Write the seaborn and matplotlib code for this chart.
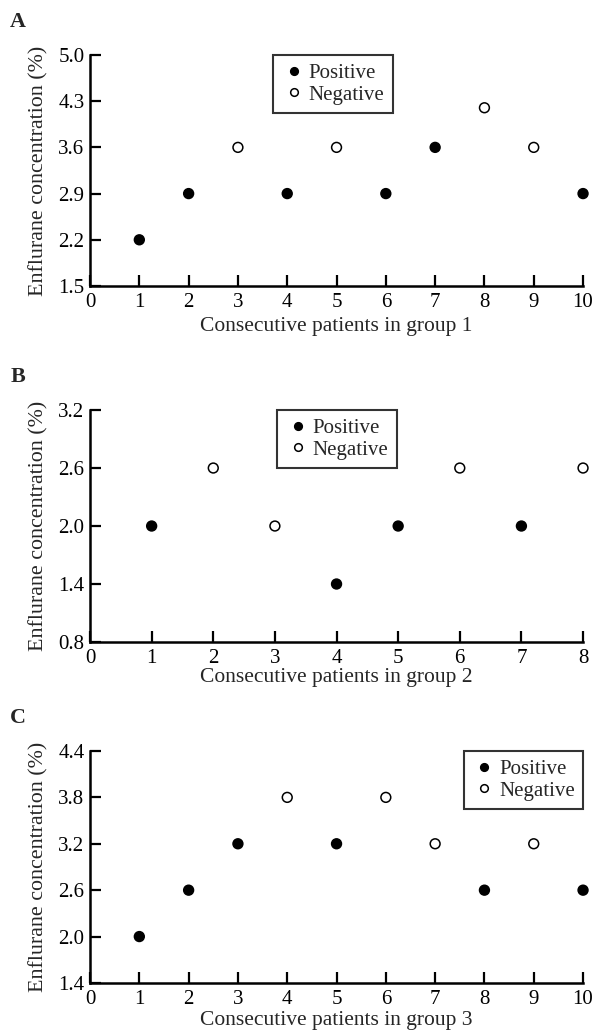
import numpy as np
import pandas as pd
import matplotlib
matplotlib.use("Agg")
import matplotlib.pyplot as plt
from matplotlib.lines import Line2D
import seaborn as sns

sns.set_style("ticks")
plt.rcParams['font.family'] = ['Liberation Serif', 'DejaVu Serif']

# Panel A - group 1
patients_a = [1, 2, 3, 4, 5, 6, 7, 8, 9, 10]
conc_a = [2.2, 2.9, 3.6, 2.9, 3.6, 2.9, 3.6, 4.2, 3.6, 2.9]
result_a = ["Positive", "Positive", "Negative", "Positive", "Negative",
            "Positive", "Positive", "Negative", "Negative", "Positive"]
yticks_a = [1.5, 2.2, 2.9, 3.6, 4.3, 5.0]

# Panel B - group 2
patients_b = [1, 2, 3, 4, 5, 6, 7, 8]
conc_b = [2.0, 2.6, 2.0, 1.4, 2.0, 2.6, 2.0, 2.6]
result_b = ["Positive", "Negative", "Negative", "Positive",
            "Positive", "Negative", "Positive", "Negative"]
yticks_b = [0.8, 1.4, 2.0, 2.6, 3.2]

# Panel C - group 3
patients_c = [1, 2, 3, 4, 5, 6, 7, 8, 9, 10]
conc_c = [2.0, 2.6, 3.2, 3.8, 3.2, 3.8, 3.2, 2.6, 3.2, 2.6]
result_c = ["Positive", "Positive", "Positive", "Negative", "Positive",
            "Negative", "Negative", "Positive", "Negative", "Positive"]
yticks_c = [1.4, 2.0, 2.6, 3.2, 3.8, 4.4]

TICK_FS = 15
XLAB_FS = 15.5
YLAB_FS = 15.8
LEG_FS = 15
palette = {"Positive": "black", "Negative": "white"}

fig = plt.figure(figsize=(5.95, 10.31), dpi=100)

# letter, x, y, result, yticks, xmax, xlabel, axes rect, legend placement, xlabel pad
panels = [
    ("A", patients_a, conc_a, result_a, yticks_a, 10, "Consecutive patients in group 1",
     [0.1513, 0.7226, 0.8286, 0.2241], ("upper left", (0.372, 1.0)), 4),
    ("B", patients_b, conc_b, result_b, yticks_b, 8, "Consecutive patients in group 2",
     [0.1513, 0.3773, 0.8286, 0.2250], ("upper left", (0.380, 1.0)), 0),
    ("C", patients_c, conc_c, result_c, yticks_c, 10, "Consecutive patients in group 3",
     [0.1513, 0.0466, 0.8286, 0.2250], ("upper right", (1.0, 1.0)), 1.5),
]

for letter, xs, ys, res, yt, xmax, xlabel, rect, (loc, anchor), xpad in panels:
    ax = fig.add_axes(rect)
    df = pd.DataFrame({"patient": xs, "conc": ys, "result": res})
    sns.scatterplot(data=df, x="patient", y="conc", hue="result", palette=palette,
                    s=50, edgecolor="black", linewidth=1.1, legend=False,
                    clip_on=False, zorder=3, ax=ax)
    ax.set_xlim(0, xmax)
    ax.set_ylim(yt[0], yt[-1])
    ax.set_xticks(range(0, xmax + 1))
    ax.set_yticks(yt)
    ax.set_yticklabels([f"{v:.1f}" for v in yt])
    sns.despine(ax=ax)
    for sp in ("left", "bottom"):
        ax.spines[sp].set_linewidth(1.8)
        ax.spines[sp].set_color("black")
    ax.tick_params(direction="in", length=8, width=1.6, labelsize=TICK_FS,
                   colors="black", pad=4)
    ax.tick_params(axis="x", pad=5)
    ax.set_xlabel(xlabel, fontsize=XLAB_FS, labelpad=xpad)
    ax.set_ylabel("Enflurane concentration (%)", fontsize=YLAB_FS, labelpad=7)

    handles = [
        Line2D([], [], marker="o", linestyle="none", markerfacecolor="black",
               markeredgecolor="black", markersize=5.5, markeredgewidth=1.1, label="Positive"),
        Line2D([], [], marker="o", linestyle="none", markerfacecolor="white",
               markeredgecolor="black", markersize=5.5, markeredgewidth=1.1, label="Negative"),
    ]
    leg = ax.legend(handles=handles, loc=loc, bbox_to_anchor=anchor, borderaxespad=0,
                    fontsize=LEG_FS, frameon=True, fancybox=False, handlelength=1.2,
                    handletextpad=0.1, labelspacing=0.1, borderpad=0.4)
    leg.get_frame().set_edgecolor("black")
    leg.get_frame().set_linewidth(1.5)

    ax.text(-0.162, 1.142, letter, transform=ax.transAxes, fontsize=YLAB_FS,
            fontweight="bold", ha="left", va="center")

fig.savefig("out.png", dpi=100)
